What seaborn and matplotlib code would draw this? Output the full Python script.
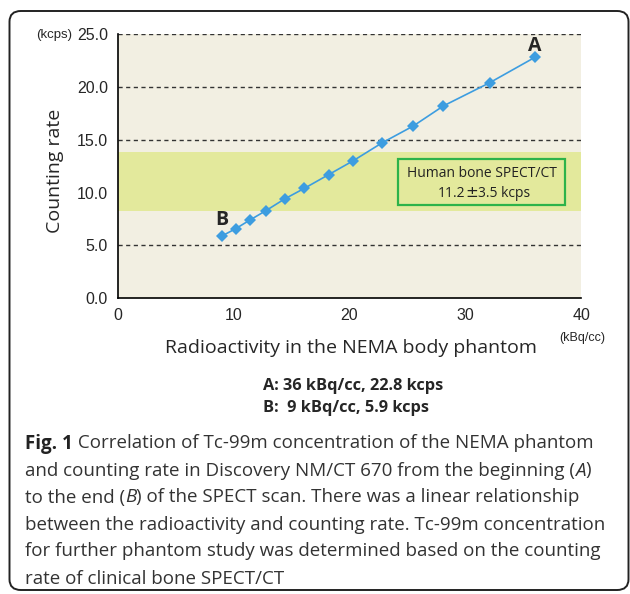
import matplotlib
matplotlib.use("Agg")
import matplotlib.pyplot as plt
from matplotlib.patches import FancyBboxPatch, Rectangle
import seaborn as sns
import pandas as pd

# ---- data ----
activity = [9.0, 10.2, 11.4, 12.8, 14.4, 16.1, 18.2, 20.3, 22.8, 25.5, 28.1, 32.1, 36.0]
count_rate = [5.9, 6.6, 7.4, 8.3, 9.4, 10.4, 11.7, 13.0, 14.7, 16.3, 18.2, 20.4, 22.8]
band_range = [8.3, 13.8]
x_ticks = [0, 10, 20, 30, 40]
y_ticks = [0.0, 5.0, 10.0, 15.0, 20.0, 25.0]

sns.set_theme(style="white")
plt.rcParams['font.family'] = ['Open Sans', 'DejaVu Sans']

W, H = 630, 594
fig = plt.figure(figsize=(W / 100, H / 100), dpi=100)
fig.patch.set_facecolor('white')
renderer = fig.canvas.get_renderer()


def fx(px):
    return px / W


def fy(py):
    return 1 - py / H


def draw_runs(x_px, y_px, runs, ha='left'):
    """Draw text runs one after another on a common baseline."""
    texts = []
    widths = []
    for s, kw in runs:
        t = fig.text(0, fy(y_px), s, va='baseline', ha='left', **kw)
        bb = t.get_window_extent(renderer)
        texts.append(t)
        widths.append(bb.width)
    total = sum(widths)
    x0 = x_px - (total / 2 if ha == 'center' else 0)
    for t, w in zip(texts, widths):
        t.set_x(fx(x0))
        x0 += w


ax = fig.add_axes([fx(117.7), fy(298.3), 463.7 / W, 264.3 / H])
ax.set_facecolor('#F2EFE2')

for yv in y_ticks[1:]:
    ax.axhline(yv, color='#333333', ls=(0, (3, 2.5)), lw=1.0, zorder=1)
ax.axhspan(band_range[0], band_range[1], color='#E3E99C', zorder=1.5, lw=0)

df = pd.DataFrame({"activity": activity, "rate": count_rate})
sns.lineplot(data=df, x="activity", y="rate", ax=ax, color='#3D9DE0', lw=1.2,
             marker='D', markersize=6, markeredgewidth=0, zorder=3)

ax.set_xlim(0, 40)
ax.set_ylim(0, 25)
ax.set_xticks(x_ticks)
ax.set_yticks(y_ticks)
tick_font = ['Liberation Sans', 'DejaVu Sans']
ax.set_yticklabels([f"{v:.1f}" for v in y_ticks], family=tick_font, fontsize=11.5)
ax.set_xticklabels([str(v) for v in x_ticks], family=tick_font, fontsize=11.5)
ax.tick_params(axis='x', direction='out', length=5, width=1, color='black', pad=2)
ax.tick_params(axis='y', length=0, pad=7)
for s in ['top', 'right']:
    ax.spines[s].set_visible(False)
for s in ['left', 'bottom']:
    ax.spines[s].set_color('black')
    ax.spines[s].set_linewidth(1.2)
ax.set_xlabel("")
ax.set_ylabel("")

# point labels
ax.text(activity[-1], count_rate[-1] + 0.62, "A", fontsize=14, fontweight='bold',
        ha='center', va='baseline')
ax.text(activity[0], count_rate[0] + 1.02, "B", fontsize=14, fontweight='bold',
        ha='center', va='baseline')

# reference box
ax.add_patch(Rectangle((24.2, 8.85), 14.4, 4.35, fill=False, ec='#2DB34A', lw=1.6, zorder=4))
box_font = dict(fontsize=10, color='#222222', zorder=5)
draw_runs(482, 177, [("Human bone SPECT/CT", box_font)], ha='center')
draw_runs(484, 197, [("11.2", box_font),
                     ("\u00b1", dict(fontsize=11, color='#222222', family='DejaVu Sans')),
                     ("3.5 kcps", box_font)], ha='center')

# axis labels
fig.text(fx(55), fy(171), "Counting rate", fontsize=14, rotation=90,
         ha='center', va='center')
fig.text(fx(72), fy(35), "(kcps)", fontsize=9.5, ha='right', va='center',
         family=['Liberation Sans Narrow', 'Liberation Sans'])
draw_runs(165, 353, [("Radioactivity in the NEMA body phantom", dict(fontsize=14))])
fig.text(fx(582), fy(338), "(kBq/cc)", fontsize=9, ha='center', va='center',
         family=['Liberation Sans Narrow', 'Liberation Sans'])

bold = dict(fontsize=11.8, fontweight='bold')
draw_runs(263, 390, [("A: 36 kBq/cc, 22.8 kcps", bold)])
draw_runs(263, 412, [("B:  9 kBq/cc, 5.9 kcps", bold)])

# caption
cap = dict(fontsize=13.5, color='#333333')
cap_b = dict(fontsize=13.5, color='#222222', fontweight='bold')
cap_i = dict(fontsize=13.5, color='#333333', style='italic')
rows = [
    [("Fig. 1", cap_b), (" Correlation of Tc-99m concentration of the NEMA phantom", cap)],
    [("and counting rate in Discovery NM/CT 670 from the beginning (", cap),
     ("A", cap_i), (")", cap)],
    [("to the end (", cap), ("B", cap_i),
     (") of the SPECT scan. There was a linear relationship", cap)],
    [("between the radioactivity and counting rate. Tc-99m concentration", cap)],
    [("for further phantom study was determined based on the counting", cap)],
    [("rate of clinical bone SPECT/CT", cap)],
]
for i, r in enumerate(rows):
    draw_runs(25, 448.5 + 27 * i, r)

frame = FancyBboxPatch((fx(9.5), fy(590)), 619 / W, 579 / H,
                       boxstyle="round,pad=0,rounding_size=0.018",
                       transform=fig.transFigure, fill=False, ec='#222222', lw=1.4)
fig.patches.append(frame)

fig.savefig("out.png", dpi=100)
